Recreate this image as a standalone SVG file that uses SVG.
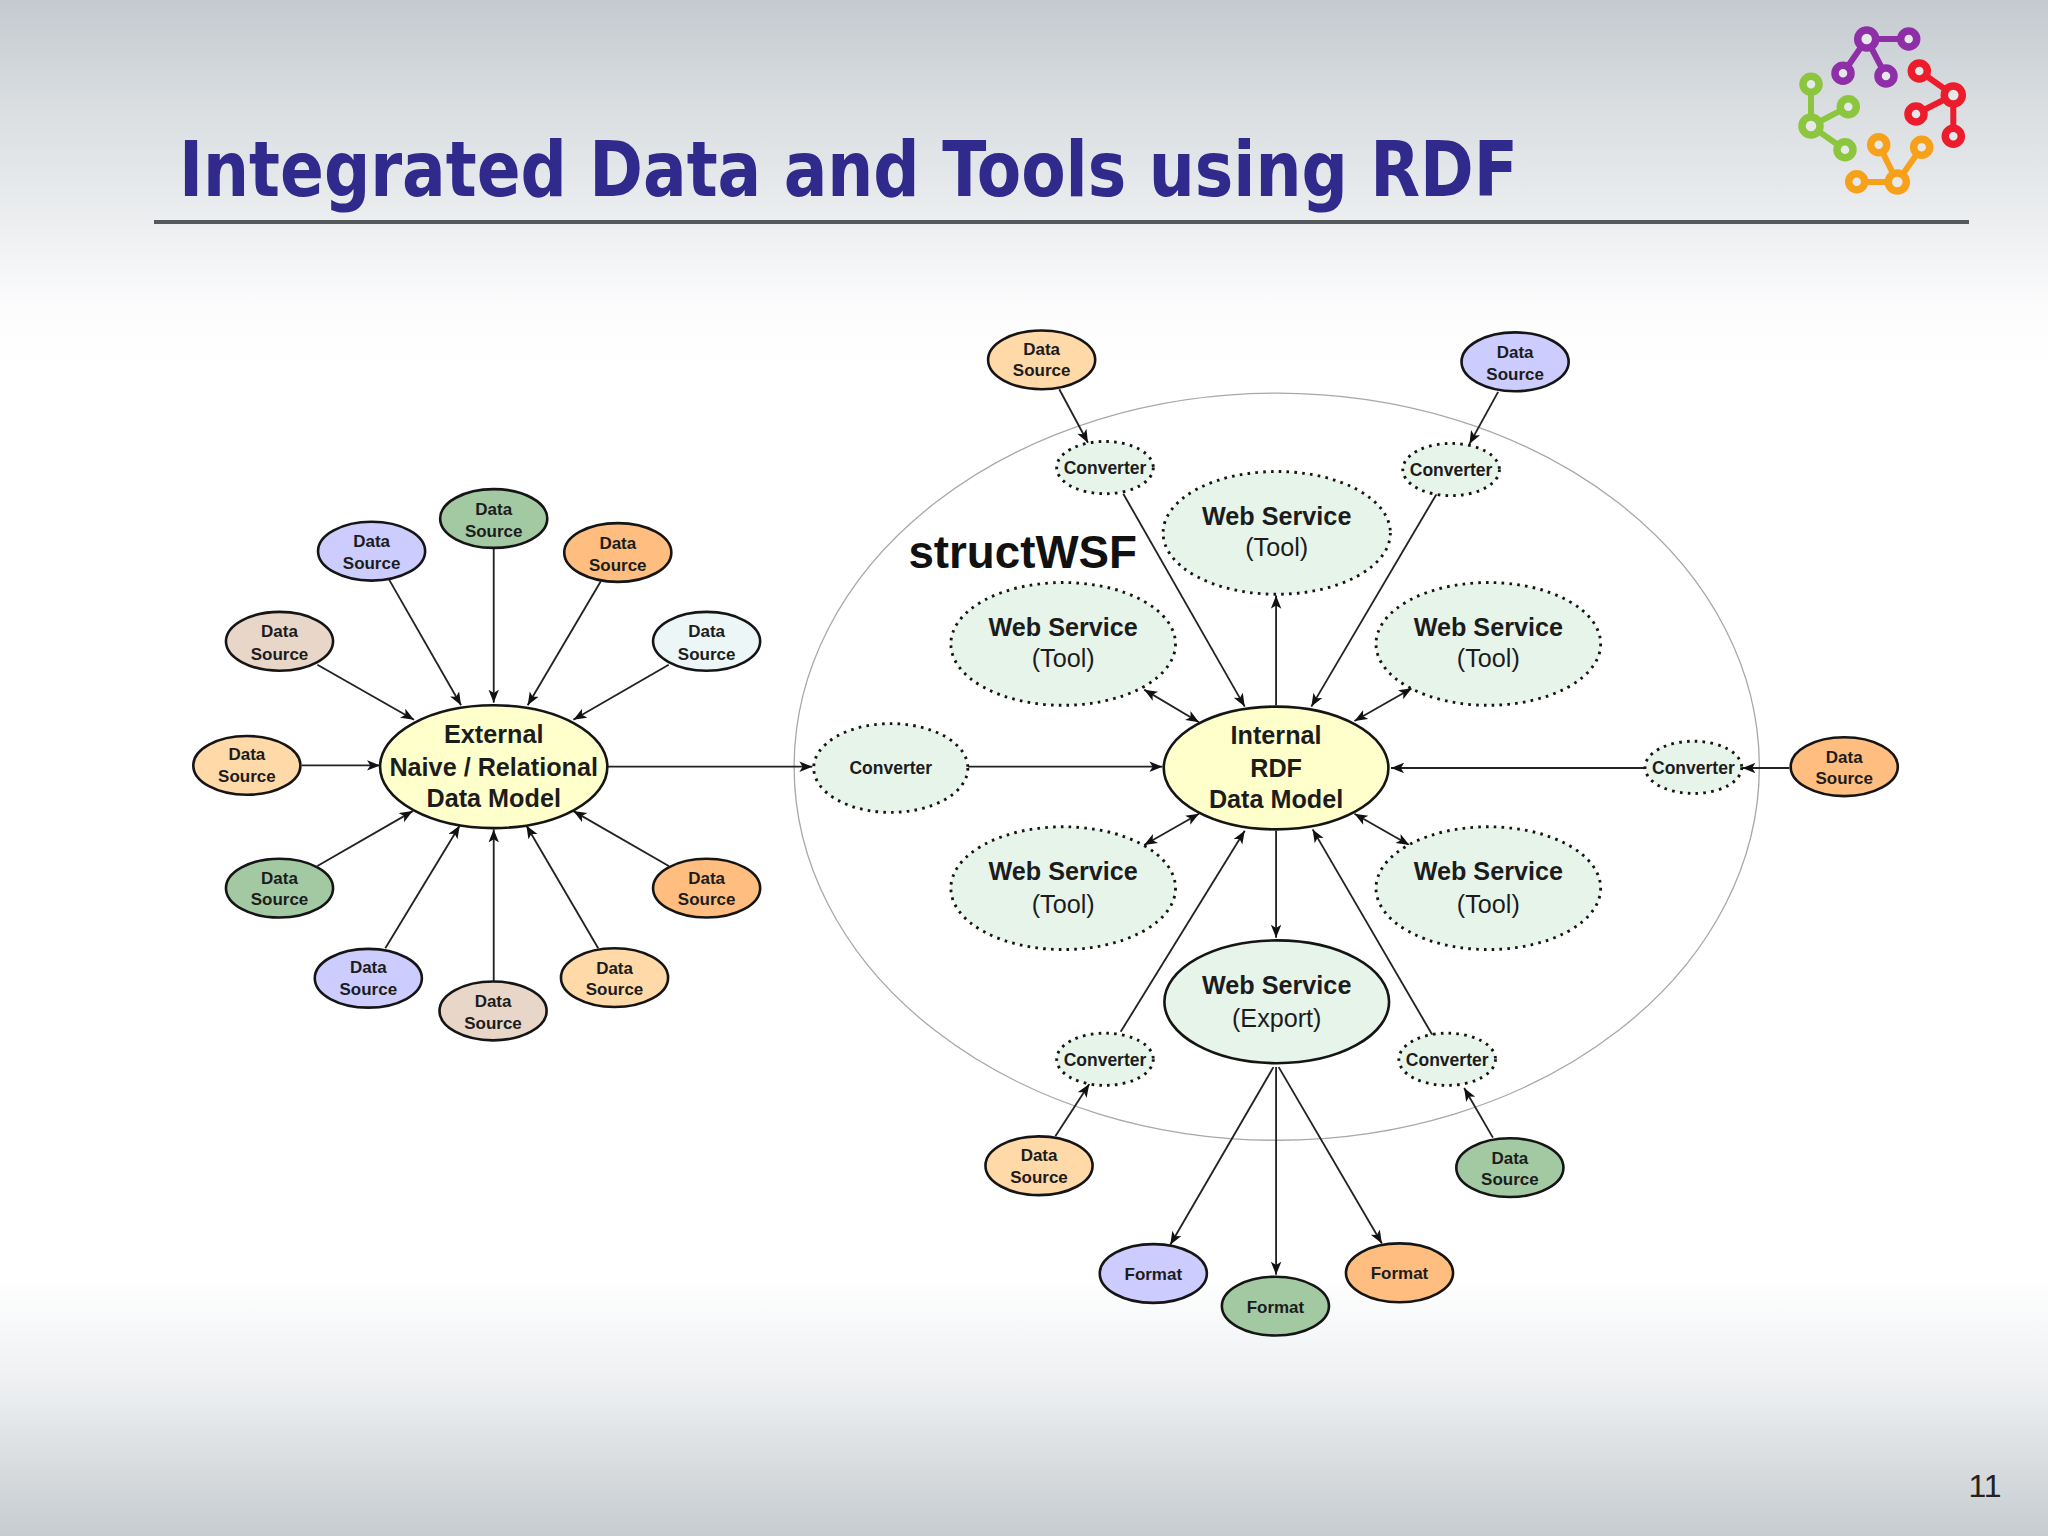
<svg xmlns="http://www.w3.org/2000/svg" width="2048" height="1536" viewBox="0 0 2048 1536">
<style>
text{font-family:"Liberation Sans",Arial,sans-serif;text-anchor:middle;fill:#1c1c1c}
.ds{font-size:13px;font-weight:700}
.cv{font-size:13.4px;font-weight:700}
.big{font-size:19.3px;font-weight:700}
.reg{font-size:19.3px;font-weight:400}
ellipse{stroke:#151515;stroke-width:2}
.dot{stroke-width:2.2;stroke-dasharray:2 4}
.ws{fill:#e6f4ea}
.y{fill:#ffffcc}.g{fill:#a3c9a3}.l{fill:#ccccff}.o{fill:#ffbe80}.b{fill:#e8d6c8}.p{fill:#ecf6f6}.t{fill:#ffd9a8}
#connectors line{stroke:#222;stroke-width:1.4;marker-end:url(#a)}
#connectors line.both{marker-start:url(#s)}
.lg{fill:none;stroke-width:6;stroke-linecap:round}
.ring{fill:#e6e9ea;stroke-width:7.5}
</style>
<defs>
<linearGradient id="bg" x1="0" y1="0" x2="0" y2="1">
<stop offset="0" stop-color="#c4cacf"/>
<stop offset="0.07" stop-color="#dadee1"/>
<stop offset="0.145" stop-color="#eceef0"/>
<stop offset="0.2" stop-color="#fcfcfd"/>
<stop offset="0.24" stop-color="#ffffff"/>
<stop offset="0.83" stop-color="#ffffff"/>
<stop offset="0.9" stop-color="#eef0f2"/>
<stop offset="0.96" stop-color="#d6dadd"/>
<stop offset="1" stop-color="#c6ccd0"/>
</linearGradient>
<marker id="a" markerUnits="userSpaceOnUse" markerWidth="11" markerHeight="9" refX="10" refY="4" orient="auto"><path d="M0,0L10,4L0,8L2.5,4z" fill="#111"/></marker>
<marker id="s" markerUnits="userSpaceOnUse" markerWidth="11" markerHeight="9" refX="0" refY="4" orient="auto"><path d="M10,0L0,4L10,8L7.5,4z" fill="#111"/></marker>
</defs>
<rect id="background" width="2048" height="1536" fill="url(#bg)"/>
<text id="title" x="179" y="196" textLength="1339" lengthAdjust="spacingAndGlyphs" style="font-family:'DejaVu Sans',sans-serif;font-stretch:condensed;font-size:76px;font-weight:700;fill:#2f2a8c;text-anchor:start">Integrated Data and Tools using RDF</text>
<rect id="rule" x="154" y="220" width="1815" height="4" fill="#55595e"/>
<g id="logo">
<g stroke="#8e2fa8" class="lg"><path class="lg" d="M1866.7 39H1908.7M1866.7 39L1843 73.3M1866.7 39L1886 76"/><circle class="ring" cx="1866.7" cy="39" r="9"/><circle class="ring" cx="1908.7" cy="39" r="8"/><circle class="ring" cx="1843" cy="73.3" r="8"/><circle class="ring" cx="1886" cy="76" r="8"/></g>
<g stroke="#ec1c2d" class="lg"><path class="lg" d="M1953.3 95L1919.3 71M1953.3 95L1916 114M1953.3 95V136"/><circle class="ring" cx="1953.3" cy="95" r="9"/><circle class="ring" cx="1919.3" cy="71" r="8"/><circle class="ring" cx="1916" cy="114" r="8"/><circle class="ring" cx="1953.3" cy="136.3" r="8"/></g>
<g stroke="#8cc63f" class="lg"><path class="lg" d="M1811 126V84M1811 126L1848.3 106.7M1811 126L1845 149.7"/><circle class="ring" cx="1811" cy="126" r="9"/><circle class="ring" cx="1811" cy="84.3" r="8"/><circle class="ring" cx="1848.3" cy="106.7" r="8"/><circle class="ring" cx="1845" cy="149.7" r="8"/></g>
<g stroke="#f7a11a" class="lg"><path class="lg" d="M1897.3 182L1878.7 144.7M1897.3 182L1921.7 147.3M1897.3 182H1856.7"/><circle class="ring" cx="1897.3" cy="182" r="9"/><circle class="ring" cx="1878.7" cy="144.7" r="8"/><circle class="ring" cx="1921.7" cy="147.3" r="8"/><circle class="ring" cx="1856.7" cy="181.7" r="8"/></g>
</g>
<g id="diagram" transform="scale(1.30612)">
<ellipse id="boundary" cx="977.5" cy="587" rx="369.5" ry="286" style="fill:none;stroke:#a8a8a8;stroke-width:1"/>
<g id="connectors">
<line x1="378" y1="420" x2="378" y2="538"/>
<line x1="298" y1="444" x2="353" y2="540"/>
<line x1="460" y1="445" x2="404" y2="540"/>
<line x1="243" y1="509" x2="317" y2="551"/>
<line x1="512" y1="509" x2="439" y2="551"/>
<line x1="231" y1="586" x2="291" y2="586"/>
<line x1="243" y1="663" x2="316" y2="621"/>
<line x1="295" y1="726" x2="352" y2="632"/>
<line x1="378" y1="751" x2="378" y2="635"/>
<line x1="458" y1="726" x2="403" y2="632"/>
<line x1="512" y1="663" x2="439" y2="621"/>
<line x1="465" y1="587" x2="622" y2="587"/>
<line x1="741" y1="587" x2="890" y2="587"/>
<line x1="811" y1="298" x2="833" y2="339"/>
<line x1="1147" y1="300" x2="1125" y2="340"/>
<line x1="860" y1="378" x2="953" y2="541"/>
<line x1="1100" y1="378" x2="1004" y2="541"/>
<line x1="977" y1="540" x2="977" y2="456"/>
<line class="both" x1="876" y1="528" x2="918" y2="553"/>
<line class="both" x1="1081" y1="527" x2="1037" y2="552"/>
<line class="both" x1="876" y1="647" x2="918" y2="623"/>
<line class="both" x1="1037" y1="623" x2="1079" y2="647"/>
<line x1="1262" y1="588" x2="1065" y2="588"/>
<line x1="1370" y1="588" x2="1334" y2="588"/>
<line x1="977" y1="636" x2="977" y2="718"/>
<line x1="858" y1="790" x2="953" y2="636"/>
<line x1="1097" y1="793" x2="1005" y2="635"/>
<line x1="808" y1="870" x2="834" y2="830"/>
<line x1="1143" y1="871" x2="1121" y2="833"/>
<line x1="975" y1="817" x2="896" y2="953"/>
<line x1="977" y1="817" x2="977" y2="976"/>
<line x1="979" y1="817" x2="1058" y2="952"/>
</g>
<g id="ds1"><ellipse class="g" cx="378" cy="397" rx="41" ry="22.5"/><text class="ds" x="378" y="394">Data</text><text class="ds" x="378" y="411">Source</text></g>
<g id="ds2"><ellipse class="l" cx="284.500" cy="422" rx="41" ry="22.5"/><text class="ds" x="284.500" y="419">Data</text><text class="ds" x="284.500" y="436">Source</text></g>
<g id="ds3"><ellipse class="o" cx="473" cy="423" rx="41" ry="22.5"/><text class="ds" x="473" y="420">Data</text><text class="ds" x="473" y="437">Source</text></g>
<g id="ds4"><ellipse class="b" cx="214" cy="491" rx="41" ry="22.5"/><text class="ds" x="214" y="488">Data</text><text class="ds" x="214" y="505">Source</text></g>
<g id="ds5"><ellipse class="p" cx="541" cy="491" rx="41" ry="22.5"/><text class="ds" x="541" y="488">Data</text><text class="ds" x="541" y="505">Source</text></g>
<g id="ds6"><ellipse class="t" cx="189" cy="586" rx="41" ry="22.5"/><text class="ds" x="189" y="582">Data</text><text class="ds" x="189" y="599">Source</text></g>
<g id="ds7"><ellipse class="g" cx="214" cy="680" rx="41" ry="22.5"/><text class="ds" x="214" y="677">Data</text><text class="ds" x="214" y="693">Source</text></g>
<g id="ds8"><ellipse class="l" cx="282" cy="749" rx="41" ry="22.5"/><text class="ds" x="282" y="745">Data</text><text class="ds" x="282" y="762">Source</text></g>
<g id="ds9"><ellipse class="b" cx="377.500" cy="774" rx="41" ry="22.5"/><text class="ds" x="377.500" y="771">Data</text><text class="ds" x="377.500" y="788">Source</text></g>
<g id="ds10"><ellipse class="t" cx="470.500" cy="748.500" rx="41" ry="22.5"/><text class="ds" x="470.500" y="746">Data</text><text class="ds" x="470.500" y="762">Source</text></g>
<g id="ds11"><ellipse class="o" cx="541" cy="680" rx="41" ry="22.5"/><text class="ds" x="541" y="677">Data</text><text class="ds" x="541" y="693">Source</text></g>
<g id="external"><ellipse class="y" cx="378" cy="587" rx="87" ry="47"/><text class="big" x="378" y="569">External</text><text class="big" x="378" y="594">Naive / Relational</text><text class="big" x="378" y="618">Data Model</text></g>
<g id="converter-main"><ellipse class="ws dot" cx="682" cy="588" rx="59" ry="34"/><text class="cv" x="682" y="592.500" style="font-weight:700">Converter</text></g>
<g id="internal"><ellipse class="y" cx="977" cy="588" rx="86" ry="47"/><text class="big" x="977" y="570">Internal</text><text class="big" x="977" y="595">RDF</text><text class="big" x="977" y="619">Data Model</text></g>
<g id="ws-top"><ellipse class="ws dot" cx="977.500" cy="408" rx="87" ry="47"/><text class="big" x="977.500" y="402">Web Service</text><text class="reg" x="977.500" y="426">(Tool)</text></g>
<g id="ws-ul"><ellipse class="ws dot" cx="814" cy="493" rx="86" ry="47"/><text class="big" x="814" y="487">Web Service</text><text class="reg" x="814" y="511">(Tool)</text></g>
<g id="ws-ur"><ellipse class="ws dot" cx="1139.500" cy="493" rx="86" ry="47"/><text class="big" x="1139.500" y="487">Web Service</text><text class="reg" x="1139.500" y="511">(Tool)</text></g>
<g id="ws-ll"><ellipse class="ws dot" cx="814" cy="680" rx="86" ry="47"/><text class="big" x="814" y="674">Web Service</text><text class="reg" x="814" y="699">(Tool)</text></g>
<g id="ws-lr"><ellipse class="ws dot" cx="1139.500" cy="680" rx="86" ry="47"/><text class="big" x="1139.500" y="674">Web Service</text><text class="reg" x="1139.500" y="699">(Tool)</text></g>
<g id="ws-export"><ellipse class="ws" cx="977.500" cy="767" rx="86" ry="47"/><text class="big" x="977.500" y="761">Web Service</text><text class="reg" x="977.500" y="786">(Export)</text></g>
<g id="cv1"><ellipse class="ws dot" cx="846" cy="358" rx="37" ry="20"/><text class="cv" x="846" y="363">Converter</text></g>
<g id="cv2"><ellipse class="ws dot" cx="1111" cy="359.500" rx="37" ry="20"/><text class="cv" x="1111" y="364.500">Converter</text></g>
<g id="cv3"><ellipse class="ws dot" cx="846" cy="811" rx="37" ry="20"/><text class="cv" x="846" y="816">Converter</text></g>
<g id="cv4"><ellipse class="ws dot" cx="1108" cy="811" rx="37" ry="20"/><text class="cv" x="1108" y="816">Converter</text></g>
<g id="cv5"><ellipse class="ws dot" cx="1296.500" cy="587.500" rx="37" ry="20"/><text class="cv" x="1296.500" y="592.500">Converter</text></g>
<g id="ds12"><ellipse class="t" cx="797.500" cy="275.500" rx="41" ry="22.5"/><text class="ds" x="797.500" y="272">Data</text><text class="ds" x="797.500" y="288">Source</text></g>
<g id="ds13"><ellipse class="l" cx="1160" cy="277" rx="41" ry="22.5"/><text class="ds" x="1160" y="274">Data</text><text class="ds" x="1160" y="291">Source</text></g>
<g id="ds14"><ellipse class="t" cx="795.500" cy="892.500" rx="41" ry="22.5"/><text class="ds" x="795.500" y="889">Data</text><text class="ds" x="795.500" y="906">Source</text></g>
<g id="ds15"><ellipse class="g" cx="1156" cy="894" rx="41" ry="22.5"/><text class="ds" x="1156" y="891">Data</text><text class="ds" x="1156" y="907">Source</text></g>
<g id="ds16"><ellipse class="o" cx="1412" cy="587" rx="41" ry="22.5"/><text class="ds" x="1412" y="584">Data</text><text class="ds" x="1412" y="600">Source</text></g>
<g id="fmt1"><ellipse class="l" cx="883" cy="975" rx="41" ry="22.5"/><text class="ds" x="883" y="980">Format</text></g>
<g id="fmt2"><ellipse class="g" cx="976.500" cy="1000" rx="41" ry="22.5"/><text class="ds" x="976.500" y="1005">Format</text></g>
<g id="fmt3"><ellipse class="o" cx="1071.500" cy="974.500" rx="41" ry="22.5"/><text class="ds" x="1071.500" y="979.500">Format</text></g>
<text id="structwsf" x="783" y="435" style="font-size:35px;font-weight:700;fill:#111">structWSF</text>
</g>
<text id="page" x="1985" y="1497" style="font-size:32px;fill:#222">11</text>
</svg>
